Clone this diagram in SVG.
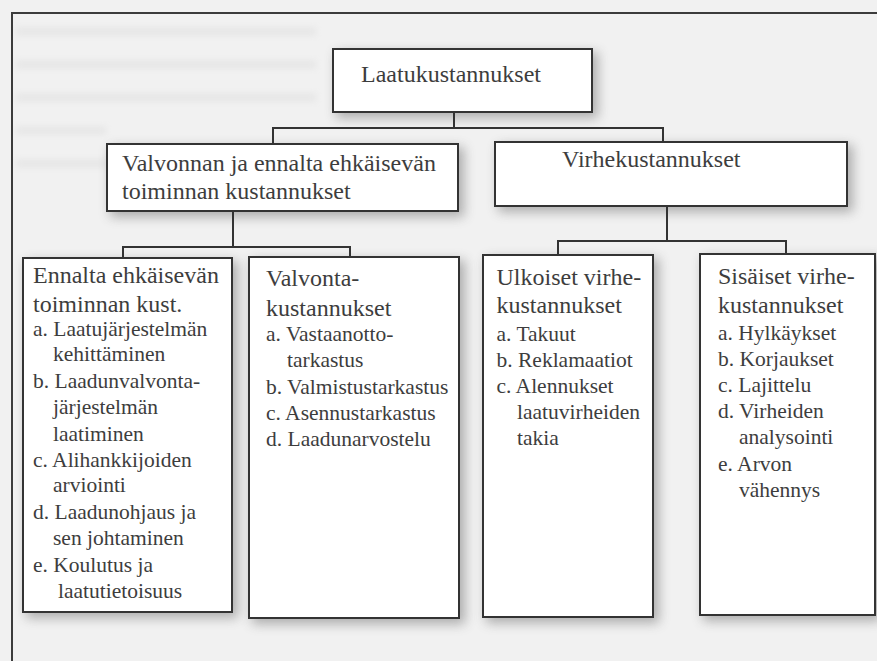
<svg xmlns="http://www.w3.org/2000/svg" width="877" height="661" viewBox="0 0 877 661">
  <defs>
    <filter id="soft" x="-20%" y="-20%" width="140%" height="140%">
      <feGaussianBlur stdDeviation="6"/>
    </filter>
    <filter id="haze" x="-10%" y="-50%" width="120%" height="200%">
      <feGaussianBlur stdDeviation="3"/>
    </filter>
  </defs>
  <style>
    .page { fill: #f1f1f1; }
    .frame { fill: none; stroke: #3c3c3c; stroke-width: 2; }
    .shadow { fill: #5a5a5a; opacity: 0.45; filter: url(#soft); }
    .box { fill: #ffffff; stroke: #333333; stroke-width: 2; }
    .wire { fill: none; stroke: #333333; stroke-width: 2; }
    .bleed { fill: #c4c4c4; opacity: 0.22; filter: url(#haze); }
  </style>

  <!-- page background and frame -->
  <rect class="page" x="0" y="0" width="877" height="661"/>
  <g id="bleed-through">
    <rect class="bleed" x="16" y="27" width="300" height="9"/>
    <rect class="bleed" x="16" y="60" width="300" height="9"/>
    <rect class="bleed" x="16" y="93" width="300" height="9"/>
    <rect class="bleed" x="16" y="126" width="90" height="9"/>
    <rect class="bleed" x="16" y="159" width="90" height="9"/>
  </g>
  <path class="frame" d="M 880 13 H 12 V 665"/>

  <!-- drop shadows -->
  <g id="shadows">
    <rect class="shadow" x="336" y="52" width="262" height="66"/>
    <rect class="shadow" x="110" y="147" width="354" height="70"/>
    <rect class="shadow" x="498" y="145" width="355" height="67"/>
    <rect class="shadow" x="26" y="261" width="212" height="357"/>
    <rect class="shadow" x="252" y="260" width="213" height="364"/>
    <rect class="shadow" x="486" y="258" width="173" height="365"/>
    <rect class="shadow" x="703" y="257" width="178" height="364"/>
  </g>

  <!-- connectors -->
  <g id="connectors">
    <path class="wire" d="M 454 112 V 128 M 273 144 V 128 H 663 V 142"/>
    <path class="wire" d="M 233 211 V 247 M 123 258 V 247 H 350 V 257"/>
    <path class="wire" d="M 667 206 V 241 M 558 255 V 241 H 786 V 254"/>
  </g>

  <!-- root -->
  <g id="laatukustannukset" fill="#3d3d3d">
    <rect class="box" x="333" y="49" width="259" height="63"/>
    <text font-family="Liberation Serif" font-size="24" x="361" y="81.5">Laatukustannukset</text>
  </g>

  <!-- second level -->
  <g id="valvonta-ja-ennaltaehkaisy" fill="#3d3d3d">
    <rect class="box" x="107" y="144" width="351" height="67"/>
    <text font-family="Liberation Serif" font-size="24" x="122" y="170.5">Valvonnan ja ennalta ehkäisevän</text>
    <text font-family="Liberation Serif" font-size="24" x="122" y="199">toiminnan kustannukset</text>
  </g>

  <g id="virhekustannukset" fill="#3d3d3d">
    <rect class="box" x="495" y="142" width="352" height="64"/>
    <text font-family="Liberation Serif" font-size="24" x="562" y="166.5">Virhekustannukset</text>
  </g>

  <!-- third level -->
  <g id="ennaltaehkaisy" fill="#3d3d3d">
    <rect class="box" x="23" y="258" width="209" height="354"/>
    <text font-family="Liberation Serif" font-size="24" x="33" y="283">Ennalta ehkäisevän</text>
    <text font-family="Liberation Serif" font-size="24" x="33" y="311.5">toiminnan kust.</text>
    <text font-family="Liberation Serif" font-size="21.5" x="33" y="335.5">a. Laatujärjestelmän</text>
    <text font-family="Liberation Serif" font-size="21.5" x="53" y="361">kehittäminen</text>
    <text font-family="Liberation Serif" font-size="21.5" x="33" y="388">b. Laadunvalvonta-</text>
    <text font-family="Liberation Serif" font-size="21.5" x="53" y="414">järjestelmän</text>
    <text font-family="Liberation Serif" font-size="21.5" x="53" y="440.5">laatiminen</text>
    <text font-family="Liberation Serif" font-size="21.5" x="33" y="466.5">c. Alihankkijoiden</text>
    <text font-family="Liberation Serif" font-size="21.5" x="53" y="492">arviointi</text>
    <text font-family="Liberation Serif" font-size="21.5" x="33" y="519">d. Laadunohjaus ja</text>
    <text font-family="Liberation Serif" font-size="21.5" x="53" y="545">sen johtaminen</text>
    <text font-family="Liberation Serif" font-size="21.5" x="33" y="571.5">e. Koulutus ja</text>
    <text font-family="Liberation Serif" font-size="21.5" x="58" y="598">laatutietoisuus</text>
  </g>

  <g id="valvontakustannukset" fill="#3d3d3d">
    <rect class="box" x="249" y="257" width="210" height="361"/>
    <text font-family="Liberation Serif" font-size="24" x="266" y="286">Valvonta-</text>
    <text font-family="Liberation Serif" font-size="24" x="266" y="315.5">kustannukset</text>
    <text font-family="Liberation Serif" font-size="21.5" x="266" y="340.5">a. Vastaanotto-</text>
    <text font-family="Liberation Serif" font-size="21.5" x="287" y="366.5">tarkastus</text>
    <text font-family="Liberation Serif" font-size="21.5" x="266" y="394">b. Valmistustarkastus</text>
    <text font-family="Liberation Serif" font-size="21.5" x="266" y="420">c. Asennustarkastus</text>
    <text font-family="Liberation Serif" font-size="21.5" x="266" y="446">d. Laadunarvostelu</text>
  </g>

  <g id="ulkoiset-virhekustannukset" fill="#3d3d3d">
    <rect class="box" x="483" y="255" width="170" height="362"/>
    <text font-family="Liberation Serif" font-size="24" x="496.5" y="285">Ulkoiset virhe-</text>
    <text font-family="Liberation Serif" font-size="24" x="496.5" y="313">kustannukset</text>
    <text font-family="Liberation Serif" font-size="21.5" x="496.5" y="340.5">a. Takuut</text>
    <text font-family="Liberation Serif" font-size="21.5" x="496.5" y="366.5">b. Reklamaatiot</text>
    <text font-family="Liberation Serif" font-size="21.5" x="496.5" y="392.5">c. Alennukset</text>
    <text font-family="Liberation Serif" font-size="21.5" x="517" y="419">laatuvirheiden</text>
    <text font-family="Liberation Serif" font-size="21.5" x="517" y="445">takia</text>
  </g>

  <g id="sisaiset-virhekustannukset" fill="#3d3d3d">
    <rect class="box" x="700" y="254" width="175" height="361"/>
    <text font-family="Liberation Serif" font-size="24" x="718" y="284">Sisäiset virhe-</text>
    <text font-family="Liberation Serif" font-size="24" x="718" y="312.5">kustannukset</text>
    <text font-family="Liberation Serif" font-size="21.5" x="718" y="340">a. Hylkäykset</text>
    <text font-family="Liberation Serif" font-size="21.5" x="718" y="365.5">b. Korjaukset</text>
    <text font-family="Liberation Serif" font-size="21.5" x="718" y="391.5">c. Lajittelu</text>
    <text font-family="Liberation Serif" font-size="21.5" x="718" y="418">d. Virheiden</text>
    <text font-family="Liberation Serif" font-size="21.5" x="739" y="444">analysointi</text>
    <text font-family="Liberation Serif" font-size="21.5" x="718" y="470.5">e. Arvon</text>
    <text font-family="Liberation Serif" font-size="21.5" x="739" y="496.5">vähennys</text>
  </g>
</svg>
